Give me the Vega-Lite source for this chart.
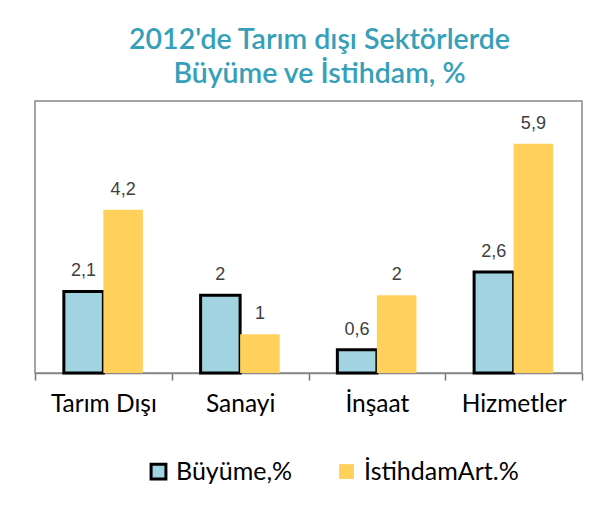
{
  "$schema": "https://vega.github.io/schema/vega-lite/v6.json",
  "autosize": "none",
  "width": 547,
  "height": 272,
  "padding": {"left": 35, "top": 101, "right": 19, "bottom": 135},
  "background": "white",
  "title": {
    "text": ["2012'de Tarım dışı Sektörlerde", "Büyüme ve İstihdam, %"],
    "font": "Lato",
    "fontSize": 28.5,
    "fontWeight": 600,
    "color": "#35A0B8",
    "lineHeight": 34,
    "anchor": "middle",
    "dx": 11,
    "offset": 13
  },
  "data": {
    "values": [
      {"sektor": "Tarım Dışı", "seri": "Büyüme,%", "deger": 2.1},
      {"sektor": "Tarım Dışı", "seri": "İstihdamArt.%", "deger": 4.2},
      {"sektor": "Sanayi", "seri": "Büyüme,%", "deger": 2},
      {"sektor": "Sanayi", "seri": "İstihdamArt.%", "deger": 1},
      {"sektor": "İnşaat", "seri": "Büyüme,%", "deger": 0.6},
      {"sektor": "İnşaat", "seri": "İstihdamArt.%", "deger": 2},
      {"sektor": "Hizmetler", "seri": "Büyüme,%", "deger": 2.6},
      {"sektor": "Hizmetler", "seri": "İstihdamArt.%", "deger": 5.9}
    ]
  },
  "encoding": {
    "x": {
      "field": "sektor",
      "type": "nominal",
      "sort": ["Tarım Dışı", "Sanayi", "İnşaat", "Hizmetler"],
      "scale": {"paddingInner": 0, "paddingOuter": 0},
      "axis": {
        "title": null,
        "labelAngle": 0,
        "labelFont": "Lato",
        "labelFontSize": 24.5,
        "labelColor": "#000000",
        "labelPadding": 12,
        "ticks": true,
        "tickBand": "extent",
        "tickSize": 7,
        "tickWidth": 1.5,
        "tickColor": "#777777",
        "domainColor": "#888888",
        "domainWidth": 1.5
      }
    },
    "xOffset": {
      "field": "seri",
      "type": "nominal",
      "sort": ["Büyüme,%", "İstihdamArt.%"],
      "scale": {"paddingInner": 0, "paddingOuter": 0.73}
    },
    "y": {
      "field": "deger",
      "type": "quantitative",
      "scale": {"domain": [0, 7]},
      "axis": null
    }
  },
  "layer": [
    {
      "mark": {"type": "bar", "strokeWidth": 3},
      "encoding": {
        "fill": {
          "field": "seri",
          "type": "nominal",
          "sort": ["Büyüme,%", "İstihdamArt.%"],
          "scale": {"range": ["#A2D3E1", "#FFD15C"]},
          "legend": {
            "title": null,
            "orient": "none",
            "direction": "horizontal",
            "legendX": 111,
            "legendY": 358,
            "labelFont": "Lato",
            "labelFontSize": 25,
            "labelColor": "#000000",
            "symbolType": "square",
            "symbolSize": 220,
            "symbolStrokeWidth": 3,
            "columnPadding": 40,
            "labelOffset": 5,
            "encode": {
              "symbols": {
                "update": {
                  "stroke": {"signal": "datum.value === 'Büyüme,%' ? '#000000' : 'transparent'"},
                  "strokeWidth": {"value": 3}
                }
              }
            }
          }
        },
        "stroke": {
          "field": "seri",
          "type": "nominal",
          "sort": ["Büyüme,%", "İstihdamArt.%"],
          "scale": {"range": ["#000000", "transparent"]},
          "legend": null
        }
      }
    },
    {
      "mark": {"type": "text", "baseline": "alphabetic", "dy": -15, "font": "Liberation Sans", "fontSize": 18, "color": "#404040"},
      "encoding": {
        "text": {"field": "deger", "type": "quantitative", "format": "~g"}
      }
    }
  ],
  "config": {
    "locale": {"number": {"decimal": ",", "thousands": ".", "grouping": [3], "currency": ["", " TL"]}},
    "view": {"stroke": "#888888", "strokeWidth": 1.5}
  }
}
